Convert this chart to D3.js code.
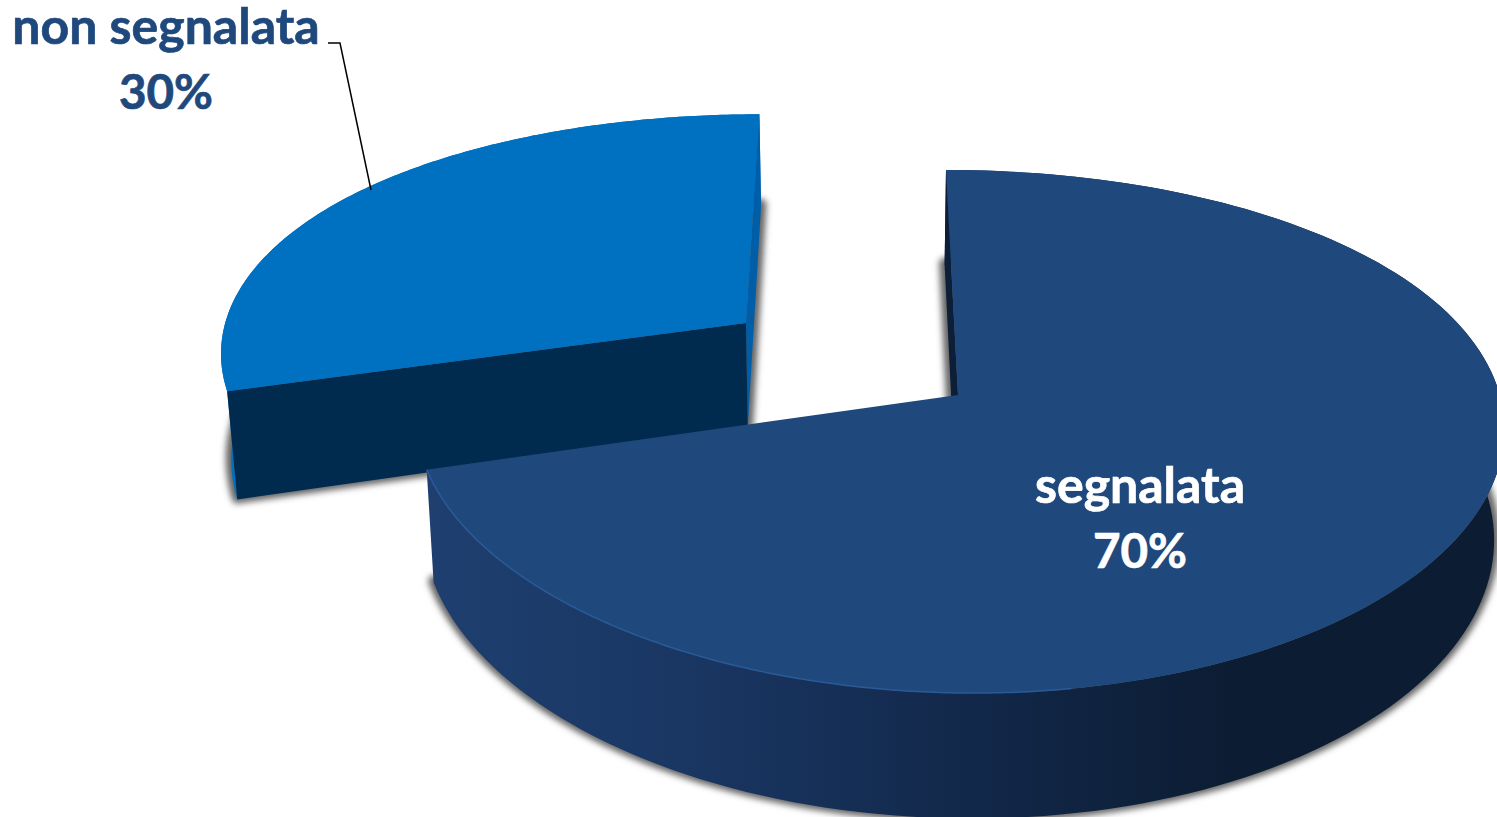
<!DOCTYPE html>
<html>
<head>
<meta charset="utf-8">
<script src="https://d3js.org/d3.v7.min.js"></script>
<style>
  html, body { margin: 0; padding: 0; background: #fff; overflow: hidden; }
  svg { display: block; }
  text { font-family: Lato, "Open Sans", sans-serif; font-weight: 700; }
</style>
</head>
<body>
<div id="chart"></div>
<script>
const categories = ['segnalata', 'non segnalata'];
const values = [70, 30];
const labels = ['70%', '30%'];
const topColors = ['#1f497d', '#0070c0'];
const faceColors = ['#0c1e38', '#005da8'];
const W = 1497, H = 817;

const VX = 860, VY = -1442, DEPTH = 1837, PERSP = 0.1396;
const RX = 539, X0 = 98, THICK = 108, CONVERGE = 0.016;
const EXPLODE = 0.497;
const SIDE_LIFT = 9; // the rim sits a bit higher at the sides than a true ellipse

const arcs = d3.pie().value((d) => d).sort(null)(values);
const midAngle = (arcs[1].startAngle + arcs[1].endAngle) / 2;
const offsets = [
  { x: 0, z: 0 },
  { x: EXPLODE * Math.sin(midAngle), z: EXPLODE * Math.cos(midAngle) },
];

// Ground plane (unit radius) to screen; level 1 is the underside of the disc.
function project(x, z, level, lift = 0) {
  const s = 1 / (1 + PERSP * z);
  const sx = VX + (X0 + RX * x) * s;
  const sy = VY + DEPTH * s - lift;
  if (!level) return [sx, sy];
  return [sx + (VX - sx) * CONVERGE, sy + THICK * s];
}
const rim = (i, a, level) => project(offsets[i].x + Math.sin(a), offsets[i].z + Math.cos(a), level,
  SIDE_LIFT * Math.sin(a) ** 2);
const hub = (i, level) => project(offsets[i].x, offsets[i].z, level);
const sweep = (a0, a1) => d3.range(0, 161).map((k) => a0 + (a1 - a0) * k / 160);
const line = d3.line();

const svg = d3.select('#chart').append('svg')
  .attr('width', W).attr('height', H).attr('viewBox', `0 0 ${W} ${H}`);
const defs = svg.append('defs');
defs.append('filter').attr('id', 'blur')
  .attr('x', '-5%').attr('y', '-5%').attr('width', '110%').attr('height', '110%')
  .append('feGaussianBlur').attr('stdDeviation', 3);
const grad = defs.append('linearGradient').attr('id', 'wallMain')
  .attr('gradientUnits', 'userSpaceOnUse')
  .attr('x1', 430).attr('x2', 1230).attr('y1', 0).attr('y2', 0);
grad.append('stop').attr('offset', 0).attr('stop-color', '#1e3f6f');
grad.append('stop').attr('offset', 0.3).attr('stop-color', '#1a3764');
grad.append('stop').attr('offset', 0.68).attr('stop-color', '#12284a');
grad.append('stop').attr('offset', 1).attr('stop-color', '#0c1d33');

// soft shadows go in first so neither slice gets one on top of it
function drawShadow(i) {
  const d = arcs[i];
  const bottom = sweep(d.startAngle, d.endAngle).map((a) => rim(i, a, 1));
  svg.append('path')
    .attr('d', line([hub(i, 1), ...bottom]) + 'Z')
    .attr('transform', 'translate(0,-1.5)')
    .attr('fill', '#666').attr('stroke', '#666').attr('stroke-width', 11)
    .attr('stroke-linejoin', 'round').attr('filter', 'url(#blur)');
}

function drawSlice(i, wallFill, cutFill) {
  const d = arcs[i];
  const angles = sweep(d.startAngle, d.endAngle);
  const top = angles.map((a) => rim(i, a, 0));
  const bottom = angles.map((a) => rim(i, a, 1));
  const g = svg.append('g').attr('class', 'slice').attr('data-name', categories[i]);

  // outer wall
  g.append('path')
    .attr('d', line([...top, ...bottom.slice().reverse()]) + 'Z')
    .attr('fill', wallFill);
  // cut face at the end of the sweep (angle 0 / 360)
  const endA = i === 0 ? d.startAngle : d.endAngle;
  g.append('path')
    .attr('d', line([rim(i, endA, 0), rim(i, endA, 1), hub(i, 1), hub(i, 0)]) + 'Z')
    .attr('fill', faceColors[i]);
  // cut face at the 252 degree boundary
  if (i === 1) {
    g.append('path')
      .attr('d', line([rim(i, d.startAngle, 0), rim(i, d.startAngle, 1), hub(i, 1), hub(i, 0)]) + 'Z')
      .attr('fill', cutFill);
  }
  // top
  g.append('path')
    .attr('d', line([hub(i, 0), ...top]) + 'Z')
    .attr('fill', topColors[i]);
  return g;
}

drawShadow(1);
drawShadow(0);
drawSlice(1, '#0070c0', '#002b4e');
const mainSlice = drawSlice(0, 'url(#wallMain)', null);

// faint lighter bevel along the front left of the big slice
mainSlice.append('path')
  .attr('d', line(sweep(arcs[0].endAngle, Math.PI * 0.95).map((a) => rim(0, a, 0))))
  .attr('fill', 'none').attr('stroke', '#2b5a98').attr('stroke-width', 1.5);

// leader line for the label outside the pie
const leaderX = [328, 340, 371];
const leaderY = [43, 43, 190];
svg.append('path')
  .attr('d', line(leaderX.map((x, k) => [x, leaderY[k]])))
  .attr('fill', 'none').attr('stroke', '#000').attr('stroke-width', 1.5);

function label(x, y, name, pct, color) {
  const t = svg.append('text').attr('text-anchor', 'middle').attr('fill', color)
    .attr('stroke', color).attr('stroke-width', 0.7);
  t.append('tspan').attr('x', x).attr('y', y).attr('font-size', 50).text(name);
  t.append('tspan').attr('x', x).attr('y', y + 65).attr('font-size', 47.5).text(pct);
}
label(1140, 503, categories[0], labels[0], '#ffffff');
label(166, 44, categories[1], labels[1], '#1f497d');
</script>
</body>
</html>
